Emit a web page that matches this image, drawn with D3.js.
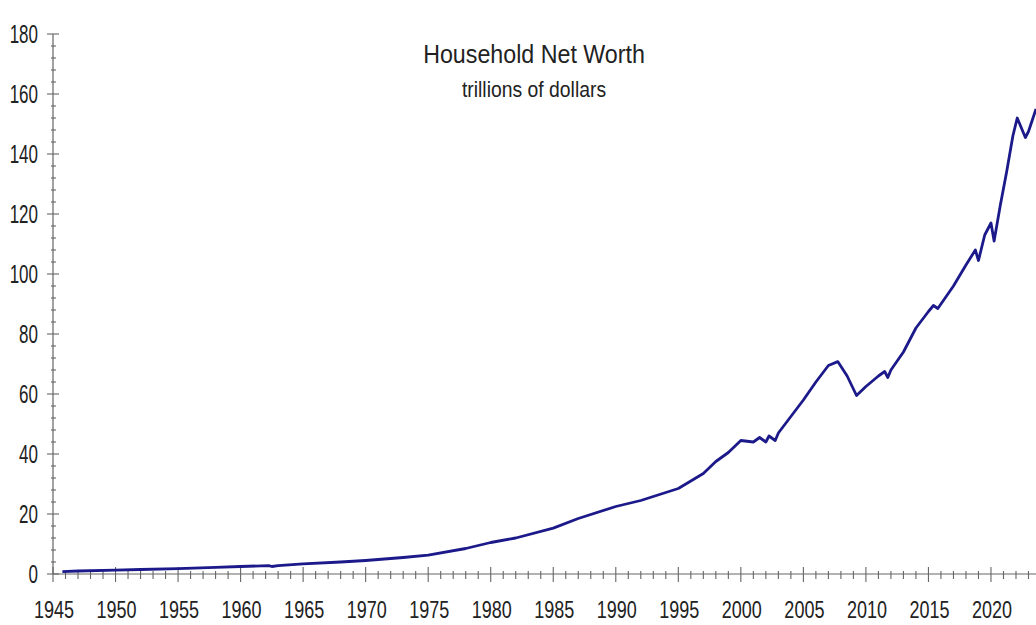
<!DOCTYPE html>
<html lang="en">
<head>
  <meta charset="UTF-8">
  <title>Household Net Worth</title>
  <script src='https://d3js.org/d3.v7.min.js'></script>
  <style>
    body { margin: 0; background: #fff; }
    text { font-family: "Liberation Sans", Arial, sans-serif; fill: #222; }
  </style>
</head>
<body>
</body>
<script>
  // quarter-ish dates and household net worth, trillions of dollars
  const years = [1945.75, 1947, 1950, 1952, 1955, 1958, 1960, 1962.25, 1962.5, 1963, 1965, 1968, 1970,
    1973, 1975, 1978, 1980, 1982, 1985, 1987, 1990, 1992, 1995, 1997, 1997.75, 1998, 1999, 2000,
    2001, 2001.5, 2002, 2002.25, 2002.75, 2003, 2004, 2005, 2006, 2007, 2007.75, 2008.5, 2009.25,
    2010, 2011, 2011.5, 2011.75, 2012, 2013, 2014, 2015, 2015.4, 2015.75, 2016, 2017, 2018, 2018.75, 2019,
    2019.5, 2020, 2020.25, 2020.75, 2021.25, 2021.75, 2022.1, 2022.3, 2022.75, 2023, 2023.6];
  const netWorth = [0.8, 1.0, 1.3, 1.5, 1.8, 2.2, 2.5, 2.8, 2.5, 2.8, 3.4, 4.0, 4.5,
    5.5, 6.3, 8.5, 10.5, 12.0, 15.3, 18.5, 22.5, 24.5, 28.5, 33.5, 36.5, 37.5, 40.5, 44.5,
    44.0, 45.5, 44.0, 46.0, 44.5, 47.0, 52.5, 58.0, 64.0, 69.5, 70.8, 66.0, 59.5,
    62.5, 66.0, 67.5, 65.5, 68.0, 74.0, 82.0, 87.5, 89.5, 88.5, 90.0, 96.0, 103.0, 108.0, 104.5,
    113.0, 117.0, 111.0, 123.0, 134.0, 146.0, 152.0, 150.0, 145.5, 147.5, 155.0];
  const yTicks = [0, 20, 40, 60, 80, 100, 120, 140, 160, 180];
  const xTicks = [1945, 1950, 1955, 1960, 1965, 1970, 1975, 1980, 1985, 1990, 1995, 2000, 2005, 2010, 2015, 2020];

  const width = 1036, height = 625;

  const x = d3.scaleLinear().domain([1945, 2023.6]).range([53, 1036]);
  const y = d3.scaleLinear().domain([0, 180]).range([574, 34]);

  const svg = d3.select("body").append("svg")
    .attr("width", width)
    .attr("height", height);

  const axisColor = "#666";

  // narrow lettering: squeeze text horizontally
  function narrow(sel, px, py, sx) {
    sel.attr("transform", (d, i) => "translate(" + px(d, i) + "," + py(d, i) + ") scale(" + sx + ",1)");
  }

  // y axis line + ticks
  svg.append("line")
    .attr("x1", x(1945)).attr("x2", x(1945))
    .attr("y1", y(180)).attr("y2", y(0))
    .attr("stroke", axisColor).attr("stroke-width", 1.2);

  svg.append("g").selectAll("line")
    .data(d3.range(0, 181, 4))
    .join("line")
    .attr("x1", d => x(1945) - (d % 20 === 0 ? 6 : 2))
    .attr("x2", d => x(1945) + (d % 20 === 0 ? 6 : 3))
    .attr("y1", d => y(d)).attr("y2", d => y(d))
    .attr("stroke", axisColor).attr("stroke-width", 1.1);

  svg.append("g").selectAll("text")
    .data(yTicks)
    .join("text")
    .attr("text-anchor", "end")
    .style("font-size", "25px")
    .text(d => d)
    .call(narrow, () => 38, d => y(d) + 9, 0.68);

  // x axis line + ticks
  svg.append("line")
    .attr("x1", x(1945)).attr("x2", width)
    .attr("y1", y(0)).attr("y2", y(0))
    .attr("stroke", axisColor).attr("stroke-width", 1.2);

  svg.append("g").selectAll("line")
    .data(d3.range(1945, 2024, 1))
    .join("line")
    .attr("x1", d => x(d)).attr("x2", d => x(d))
    .attr("y1", d => y(0) - (d % 5 === 0 ? 7 : 3))
    .attr("y2", d => y(0) + (d % 5 === 0 ? 8 : 5))
    .attr("stroke", axisColor).attr("stroke-width", 1.1);

  svg.append("g").selectAll("text")
    .data(xTicks)
    .join("text")
    .attr("text-anchor", "middle")
    .style("font-size", "24px")
    .text(d => d)
    .call(narrow, d => x(d) + 1, () => 618, 0.75);

  // the series
  const line = d3.line()
    .x((d, i) => x(years[i]))
    .y(d => y(d));

  svg.append("path")
    .datum(netWorth)
    .attr("fill", "none")
    .attr("stroke", "#1c1a8a")
    .attr("stroke-width", 2.8)
    .attr("stroke-linejoin", "round")
    .attr("d", line);

  // titles
  svg.append("text")
    .attr("text-anchor", "middle")
    .style("font-size", "25px")
    .text("Household Net Worth")
    .call(narrow, () => 534, () => 63, 0.93);

  svg.append("text")
    .attr("text-anchor", "middle")
    .style("font-size", "22px")
    .text("trillions of dollars")
    .call(narrow, () => 534, () => 97, 0.88);
</script>
</html>
